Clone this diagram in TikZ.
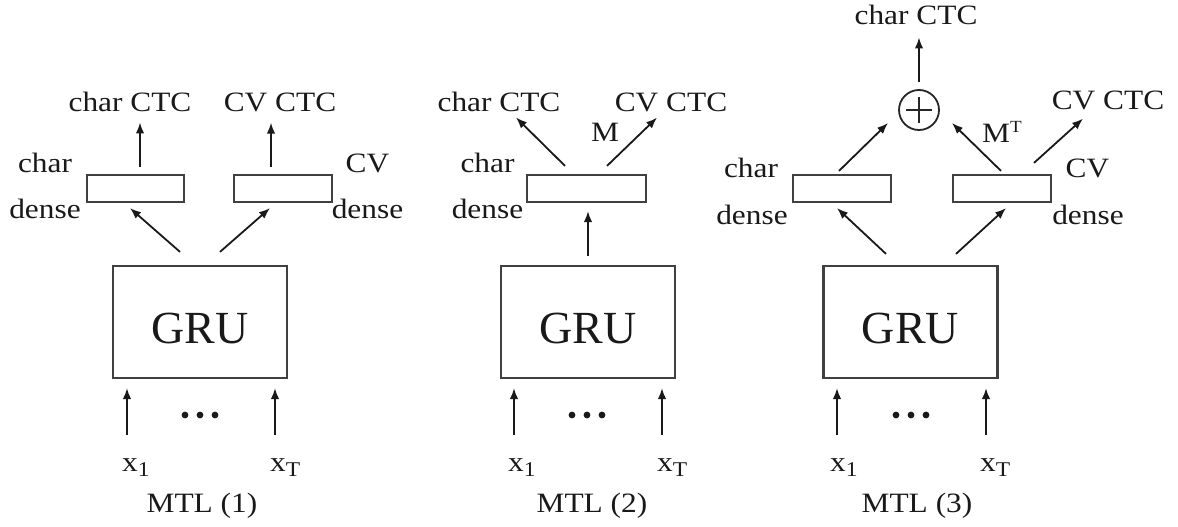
\documentclass[tikz,border=0pt]{standalone}
\usepackage{fontspec}
\setmainfont{Liberation Serif}
\usetikzlibrary{arrows.meta}
\newcommand\hstr[1]{\scalebox{1.12}[1]{#1}}
\newcommand\subsc[1]{\raisebox{-5pt}{\fontsize{21}{21}\selectfont #1}}
\begin{document}
\begin{tikzpicture}[x=1pt,y=-1pt,
  lbl/.style={font=\fontsize{28}{28}\selectfont, inner sep=0pt, anchor=base, text=black!90},
  gru/.style={draw=black!75, line width=2.2pt, minimum width=174pt, minimum height=112pt,
    inner sep=0pt, text height=46pt, text depth=4pt, font=\fontsize{46}{46}\selectfont, text=black!90},
  dbox/.style={draw=black!75, line width=2.2pt, minimum height=27pt, inner sep=0pt},
  arr/.style={line width=1.8pt, draw=black!90, -{Latex[length=11pt,width=8.5pt]}},
  dot/.style={fill=black!90},
]
\useasboundingbox (0,0) rectangle (1178,527);

% ---------- Panel 1 ----------
\node[gru] (g1) at (200,322) {GRU};
\node[dbox, minimum width=97pt] (d1a) at (135.5,188.5) {};
\node[dbox, minimum width=98pt] (d1b) at (283,188.5) {};
\node[lbl] (c1a) at (130,111) {\hstr{char CTC}};
\node[lbl] (c1b) at (280,111) {\hstr{CV CTC}};
\node[lbl] (n1a) at (45,172) {\hstr{char}};
\node[lbl] (m1a) at (45,218) {\hstr{dense}};
\node[lbl] (n1b) at (367.5,172) {\hstr{CV}};
\node[lbl] (m1b) at (367.5,218) {\hstr{dense}};
\draw[arr] ([shift={(4.5,-7)}]d1a.north) -- ([shift={(10,11)}]c1a.south);
\draw[arr] ([shift={(-12,-7)}]d1b.north) -- ([shift={(-9,11)}]c1b.south);
\draw[arr] ([shift={(-20,-13)}]g1.north) -- ([shift={(-5.5,5)}]d1a.south);
\draw[arr] ([shift={(20,-13)}]g1.north) -- ([shift={(-13,5)}]d1b.south);
\coordinate (i1a) at (127,435);
\coordinate (i1b) at (275,435);
\draw[arr] (i1a) -- ([shift={(0,9)}]i1a |- g1.south);
\draw[arr] (i1b) -- ([shift={(0,9)}]i1b |- g1.south);
\fill[dot] (185,415) circle[radius=3.4pt] (200,415) circle[radius=3.4pt] (215,415) circle[radius=3.4pt];
\node[lbl, anchor=base west] (x1a) at (122,471) {\hstr{x\subsc{1}}};
\node[lbl, anchor=base west] (x1b) at (270,471) {\hstr{x\subsc{T}}};
\node[lbl] (t1) at (202,512) {\hstr{MTL (1)}};

% ---------- Panel 2 ----------
\node[gru] (g2) at (588,322) {GRU};
\node[dbox, minimum width=119pt] (d2) at (586.5,188.5) {};
\node[lbl] (c2a) at (499,111) {\hstr{char CTC}};
\node[lbl] (c2b) at (671,111) {\hstr{CV CTC}};
\node[lbl] (mm) at (605,141) {\hstr{M}};
\node[lbl] (n2) at (487.5,172) {\hstr{char}};
\node[lbl] (m2) at (487.5,218) {\hstr{dense}};
\draw[arr] ([shift={(0,-9)}]g2.north) -- ([shift={(1.5,8)}]d2.south);
\draw[arr] ([shift={(-21.5,-8)}]d2.north) -- ([shift={(17,6)}]c2a.south);
\draw[arr] ([shift={(20.5,-8)}]d2.north) -- ([shift={(-14,6)}]c2b.south);
\coordinate (i2a) at (514,435);
\coordinate (i2b) at (662,435);
\draw[arr] (i2a) -- ([shift={(0,9)}]i2a |- g2.south);
\draw[arr] (i2b) -- ([shift={(0,9)}]i2b |- g2.south);
\fill[dot] (572,415) circle[radius=3.4pt] (587,415) circle[radius=3.4pt] (602,415) circle[radius=3.4pt];
\node[lbl, anchor=base west] (x2a) at (508,471) {\hstr{x\subsc{1}}};
\node[lbl, anchor=base west] (x2b) at (657,471) {\hstr{x\subsc{T}}};
\node[lbl] (t2) at (592,512) {\hstr{MTL (2)}};

% ---------- Panel 3 ----------
\node[gru] (g3) at (910.5,322) {GRU};
\node[dbox, minimum width=98pt] (d3a) at (842,188.5) {};
\node[dbox, minimum width=98pt] (d3b) at (1002,188.5) {};
\node[circle, draw=black!85, line width=1.8pt, minimum size=40pt, inner sep=0pt] (op) at (919,110) {};
\draw[line width=1.8pt, black!85] ([shift={(-13,0)}]op.center) -- ([shift={(13,0)}]op.center);
\draw[line width=1.8pt, black!85] ([shift={(0,-13)}]op.center) -- ([shift={(0,13)}]op.center);
\node[lbl] (c3a) at (916,25) {\hstr{char CTC}};
\node[lbl] (c3b) at (1108,110) {\hstr{CV CTC}};
\node[lbl, anchor=base west] (mt) at (982,142) {\hstr{M\raisebox{10pt}{\fontsize{17}{17}\selectfont T}}};
\node[lbl] (n3a) at (751,177) {\hstr{char}};
\node[lbl] (m3a) at (752,224) {\hstr{dense}};
\node[lbl] (n3b) at (1087.5,177) {\hstr{CV}};
\node[lbl] (m3b) at (1088,224) {\hstr{dense}};
\draw[arr] ([shift={(0,-7)}]op.north) -- ([shift={(3,12)}]c3a.south);
\draw[arr] ([shift={(-3,-3)}]d3a.north) -- ([shift={(-31,13)}]op.center);
\draw[arr] ([shift={(-1,-3)}]d3b.north) -- ([shift={(33,13)}]op.center);
\draw[arr] ([shift={(32,-11)}]d3b.north) -- ([shift={(-25,8)}]c3b.south);
\draw[arr] ([shift={(-24.5,-11)}]g3.north) -- ([shift={(-5,5)}]d3a.south);
\draw[arr] ([shift={(45.5,-11)}]g3.north) -- ([shift={(4,5)}]d3b.south);
\coordinate (i3a) at (837,435);
\coordinate (i3b) at (986,435);
\draw[arr] (i3a) -- ([shift={(0,9)}]i3a |- g3.south);
\draw[arr] (i3b) -- ([shift={(0,9)}]i3b |- g3.south);
\fill[dot] (896,415) circle[radius=3.4pt] (911,415) circle[radius=3.4pt] (926,415) circle[radius=3.4pt];
\node[lbl, anchor=base west] (x3a) at (830,471) {\hstr{x\subsc{1}}};
\node[lbl, anchor=base west] (x3b) at (980,471) {\hstr{x\subsc{T}}};
\node[lbl] (t3) at (917,512) {\hstr{MTL (3)}};
\end{tikzpicture}
\end{document}
